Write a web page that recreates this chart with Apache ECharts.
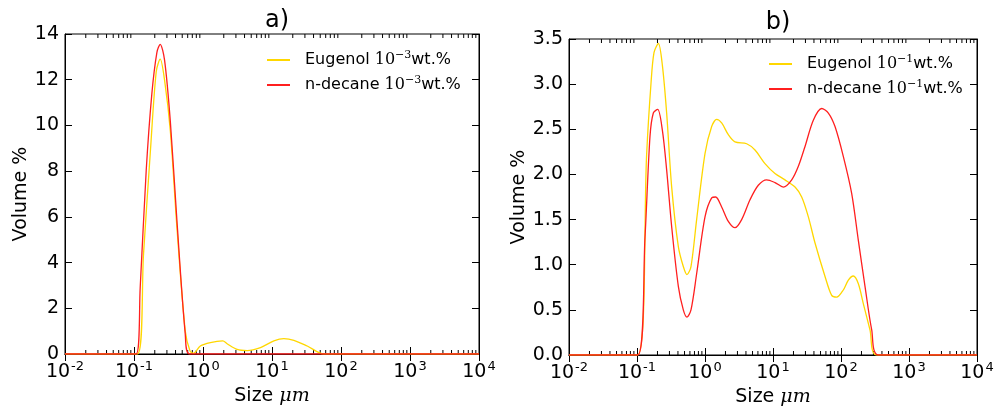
<!DOCTYPE html>
<html><head><meta charset="utf-8">
<script src="https://cdn.jsdelivr.net/npm/echarts@6/dist/echarts.min.js"></script>
<style>html,body{margin:0;padding:0;background:#fff}#c{width:994px;height:408px}</style>
</head><body><div id="c"></div>
<script>
// ---- data (size in µm, volume %) ----
const sizeA_eug = [0.01, 0.1125, 0.1374, 0.1718, 0.2099, 0.2399, 0.2773, 0.3357, 0.4188, 0.5534, 0.6486, 0.7311, 0.9142, 1.279, 1.932, 2.234, 3.119, 4.355, 6.808, 10.64, 14.86, 20.75, 32.43, 56.62, 10000];
const volA_eug  = [0, 0, 4.37, 8.76, 12.35, 12.9, 11.98, 9.78, 5.54, 1.0, 0.13, 0.03, 0.35, 0.5, 0.57, 0.45, 0.2, 0.15, 0.28, 0.57, 0.67, 0.6, 0.35, 0, 0];
const sizeA_dec = [0.01, 0.1076, 0.123, 0.1503, 0.1816, 0.2148, 0.2399, 0.2773, 0.3357, 0.4188, 0.5534, 0.6339, 10000];
const volA_dec  = [0, 0, 2.91, 8.03, 11.4, 13.2, 13.55, 12.86, 10.2, 5.84, 0.86, 0, 0];
const sizeB_eug = [0.01, 0.1023, 0.1387, 0.1607, 0.1778, 0.2061, 0.2360, 0.2729, 0.3236, 0.4055, 0.4797, 0.5433, 0.6223, 0.7534, 1.0, 1.253, 1.486, 1.758, 2.203, 2.761, 4.102, 5.433, 7.621, 10.69, 15.00, 21.09, 26.42, 33.11, 41.50, 58.21, 72.95, 86.30, 108.1, 128.2, 151.7, 179.9, 212.8, 266.7, 334.2, 10000];
const volB_eug  = [0, 0, 2.23, 3.01, 3.35, 3.45, 3.21, 2.68, 1.86, 1.20, 0.98, 0.89, 0.98, 1.50, 2.23, 2.53, 2.61, 2.57, 2.44, 2.36, 2.34, 2.27, 2.12, 2.01, 1.94, 1.86, 1.75, 1.53, 1.24, 0.87, 0.66, 0.64, 0.72, 0.83, 0.875, 0.79, 0.57, 0.28, 0, 0];
const sizeB_dec = [0.01, 0.1023, 0.1312, 0.1552, 0.1738, 0.2014, 0.2360, 0.2729, 0.3236, 0.4055, 0.4797, 0.5433, 0.6223, 0.7534, 1.0, 1.253, 1.436, 1.758, 2.203, 2.761, 3.459, 4.592, 6.081, 8.072, 10.69, 14.19, 18.84, 23.60, 29.58, 39.17, 52.00, 65.16, 81.66, 108.1, 143.5, 179.9, 225.4, 282.5, 354.0, 10000];
const volB_dec  = [0, 0, 1.31, 2.42, 2.68, 2.72, 2.49, 2.05, 1.42, 0.76, 0.50, 0.42, 0.50, 0.90, 1.53, 1.74, 1.75, 1.64, 1.48, 1.41, 1.50, 1.72, 1.88, 1.94, 1.91, 1.86, 1.94, 2.09, 2.31, 2.60, 2.73, 2.68, 2.53, 2.20, 1.79, 1.27, 0.76, 0.28, 0, 0];
const namesA = ['Eugenol|-3', 'n-decane|-3'];
const namesB = ['Eugenol|-1', 'n-decane|-1'];
const panelTitles = ['a)', 'b)'];
const yTicksA = [0, 14, 2];
const yTicksB = [0, 3.5, 0.5];
const minorMult = [2, 3, 4, 5, 6, 7, 8, 9];
const decades = [0.01, 0.1, 1, 10, 100, 1000];

const minorVals = [];
decades.forEach(d => minorMult.forEach(m => minorVals.push([d * m, 0])));
const pair = (xs, ys) => xs.map((x, i) => [x, ys[i]]);

const YEL = '#ffd700', RED = '#ff1f1f';
const FONT = 'DejaVu Sans';
const grids = [
  {left: 65, top: 34, width: 414, height: 320},
  {left: 569, top: 39, width: 408, height: 316}
];
const xLabelRich = {
  b: {fontFamily: FONT, fontSize: 19, color: '#000', lineHeight: 24},
  s: {fontFamily: FONT, fontSize: 13, color: '#000', verticalAlign: 'top', lineHeight: 13, padding: [0, 0, 0, 1]}
};
function xAxes(gi) {
  return [
    {type: 'log', logBase: 10, gridIndex: gi, min: 0.01, max: 10000, splitNumber: 6, position: 'bottom',
     axisLine: {lineStyle: {color: '#000', width: 1}}, splitLine: {show: false},
     axisTick: {inside: true, length: 7, lineStyle: {color: '#000'}},
     axisLabel: {margin: 6, formatter: v => '{b|10}{s|' + Math.round(Math.log10(v)) + '}', rich: xLabelRich},
     name: '{t|Size }{m|μm}', nameLocation: 'middle', nameGap: 33,
     nameTextStyle: {rich: {t: {fontFamily: FONT, fontSize: 19, color: '#000'}, m: {fontFamily: 'DejaVu Serif', fontStyle: 'italic', fontSize: 19, color: '#000'}}}},
    {type: 'log', logBase: 10, gridIndex: gi, min: 0.01, max: 10000, splitNumber: 6, position: 'top',
     axisLine: {lineStyle: {color: '#000'}}, splitLine: {show: false},
     axisTick: {inside: true, length: 7, lineStyle: {color: '#000'}}, axisLabel: {show: false}}
  ];
}
function yAxes(gi, t, dec) {
  return [
    {type: 'value', gridIndex: gi, min: t[0], max: t[1], interval: t[2], position: 'left',
     axisLine: {show: true, lineStyle: {color: '#000'}}, splitLine: {show: false},
     axisTick: {show: true, inside: true, length: 7, lineStyle: {color: '#000'}},
     axisLabel: {fontFamily: FONT, fontSize: 19, color: '#000', margin: 6, formatter: v => v.toFixed(dec)},
     name: 'Volume %', nameLocation: 'middle', nameRotate: 90, nameGap: dec ? 39 : 34,
     nameTextStyle: {fontFamily: FONT, fontSize: 19, color: '#000'}},
    {type: 'value', gridIndex: gi, min: t[0], max: t[1], interval: t[2], position: 'right',
     axisLine: {show: true, lineStyle: {color: '#000'}}, splitLine: {show: false},
     axisTick: {show: true, inside: true, length: 7, lineStyle: {color: '#000'}}, axisLabel: {show: false}}
  ];
}
function minorSeries(xi, yi, ymin, ymax) {
  return {type: 'custom', xAxisIndex: xi, yAxisIndex: yi, silent: true, clip: false, z: 1,
    data: minorVals,
    renderItem: (p, api) => {
      const b = api.coord([api.value(0), ymin]);
      const t = api.coord([api.value(0), ymax]);
      return {type: 'group', children: [
        {type: 'line', shape: {x1: b[0], y1: b[1], x2: b[0], y2: b[1] - 4}, style: {stroke: '#000', lineWidth: 1}},
        {type: 'line', shape: {x1: t[0], y1: t[1], x2: t[0], y2: t[1] + 4}, style: {stroke: '#000', lineWidth: 1}}
      ]};
    }};
}
function line(name, data, color, xi, yi) {
  return {type: 'line', name, data, xAxisIndex: xi, yAxisIndex: yi, symbol: 'none', smooth: 0.3,
    lineStyle: {color, width: 1.3}, itemStyle: {color}, z: 3};
}
const legendRich = {
  n: {fontFamily: FONT, fontSize: 16, color: '#000', lineHeight: 20},
  m: {fontFamily: 'DejaVu Serif', fontSize: 16, color: '#000', lineHeight: 20},
  s: {fontFamily: 'DejaVu Serif', fontSize: 11, color: '#000', verticalAlign: 'top', lineHeight: 11}
};
const legendFmt = name => {
  const [a, e] = name.split('|');
  return '{n|' + a + ' }{m|10}{s|−' + e.replace('-', '') + '}{n|wt.%}';
};
function legend(names, left, top) {
  return {data: names, left, top, orient: 'vertical', itemGap: 7, itemWidth: 23, itemHeight: 2,
    icon: 'rect', formatter: legendFmt, textStyle: {rich: legendRich, padding: [0, 0, 0, 10]}};
}

const chart = echarts.init(document.getElementById('c'), null, {renderer: 'canvas'});
chart.setOption({
  animation: false,
  backgroundColor: '#fff',
  title: [
    {text: panelTitles[0], left: 272, top: 4, textAlign: 'center', textStyle: {fontFamily: FONT, fontSize: 24, fontWeight: 'normal', color: '#000'}},
    {text: panelTitles[1], left: 773, top: 6, textAlign: 'center', textStyle: {fontFamily: FONT, fontSize: 24, fontWeight: 'normal', color: '#000'}}
  ],
  grid: grids.map(g => Object.assign({show: true, borderColor: '#000', borderWidth: 1, backgroundColor: '#fff', containLabel: false, outerBoundsMode: 'none'}, g)),
  xAxis: [...xAxes(0), ...xAxes(1)],
  yAxis: [...yAxes(0, yTicksA, 0), ...yAxes(1, yTicksB, 1)],
  legend: [legend(namesA, 262, 45), legend(namesB, 764, 49)],
  series: [
    minorSeries(0, 0, yTicksA[0], yTicksA[1]),
    minorSeries(2, 2, yTicksB[0], yTicksB[1]),
    line(namesA[0], pair(sizeA_eug, volA_eug), YEL, 0, 0),
    line(namesA[1], pair(sizeA_dec, volA_dec), RED, 0, 0),
    line(namesB[0], pair(sizeB_eug, volB_eug), YEL, 2, 2),
    line(namesB[1], pair(sizeB_dec, volB_dec), RED, 2, 2)
  ]
});
</script></body></html>
